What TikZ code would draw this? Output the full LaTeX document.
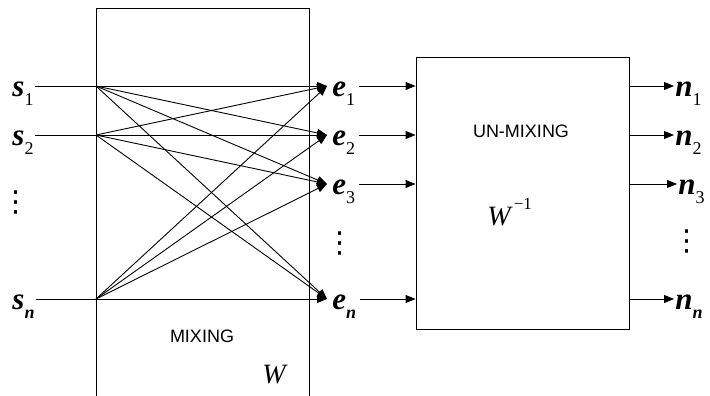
\documentclass[tikz,border=0pt]{standalone}
\usepackage{fontspec}
\usepackage{graphicx}
\setmainfont{Liberation Serif}
\newfontfamily\sansf{Liberation Sans}
\newfontfamily\dejavu{DejaVu Sans}
\usetikzlibrary{arrows.meta}
\newcommand\symsub[2]{{\bfseries\itshape #1}\raisebox{-0.3em}{\fontsize{18}{18}\selectfont #2}}
\newcommand\symsubn[1]{{\bfseries\itshape #1}\raisebox{-0.3em}{\fontsize{18}{18}\selectfont\bfseries\itshape n}}
\begin{document}
\begin{tikzpicture}[x=1pt,y=-1pt,line width=0.9pt,
  >={Triangle[length=10pt,width=8pt]},
  lab/.style={anchor=base west,inner sep=0pt,font=\fontsize{31}{31}\selectfont},
  dotsnode/.style={inner sep=0pt,font=\dejavu\fontsize{29}{29}\selectfont},
  boxtext/.style={inner sep=0pt,font=\sansf\fontsize{18}{18}\selectfont},
  wtext/.style={anchor=base west,inner sep=0pt,font=\fontsize{28}{28}\selectfont\itshape},
  conn/.style={->}]
\useasboundingbox (0,0) rectangle (710,396);
% mixing box (open at the bottom)
\draw (96,396) -- (96,8.5) -- (309,8.5) -- (309,396);
% un-mixing box
\node[draw,minimum width=213pt,minimum height=272pt,inner sep=0pt] (U) at (522.5,193) {};
% source labels
\node[lab] (s1) at (12,96) {\symsub{s}{1}};
\node[lab] (s2) at (12,145) {\symsub{s}{2}};
\node[lab] (sn) at (12,309) {\symsubn{s}};
\node[dotsnode] (ldots) at (16,202) {⋮};
% mixed labels
\node[lab] (e1) at (332,96) {\symsub{e}{1}};
\node[lab] (e2) at (332,145) {\symsub{e}{2}};
\node[lab] (e3) at (332,194) {\symsub{e}{3}};
\node[lab] (en) at (332,309) {\symsubn{e}};
\node[dotsnode] (mdots) at (340,243) {⋮};
% output labels
\node[lab] (n1) at (675,96) {\symsub{n}{1}};
\node[lab] (n2) at (675,145) {\symsub{n}{2}};
\node[lab] (n3) at (678,194) {\symsub{n}{3}};
\node[lab] (nn) at (675,309) {\symsubn{n}};
\node[dotsnode] (rdots) at (687,241) {⋮};
% row coordinates
\coordinate (a1) at (96,86);
\coordinate (a2) at (96,135);
\coordinate (an) at (96,299);
\coordinate (t1) at (327,86);
\coordinate (t2) at (327,135);
\coordinate (t3) at (327,184);
\coordinate (tn) at (327,299);
% straight lines s_i -> e_i
\draw[conn] ([xshift=1pt]s1.east |- a1) -- (t1);
\draw[conn] ([xshift=1pt]s2.east |- a2) -- (t2);
\draw[conn] ([xshift=1pt]sn.east |- an) -- (tn);
% crossing lines
\foreach \s/\t in {1/2,1/3,1/n,2/1,2/3,2/n,n/1,n/2,n/3}
  \draw[conn] (a\s) -- (t\t);
% e_i -> un-mixing
\draw[conn] ([xshift=3pt]e1.east |- t1) -- (U.west |- t1);
\draw[conn] ([xshift=3pt]e2.east |- t2) -- (U.west |- t2);
\draw[conn] ([xshift=3pt]e3.east |- t3) -- (U.west |- t3);
\draw[conn] ([xshift=3pt]en.east |- tn) -- (U.west |- tn);
% outputs
\draw[conn] (U.east |- t1) -- ([xshift=-1pt]n1.west |- t1);
\draw[conn] (U.east |- t2) -- ([xshift=-1pt]n2.west |- t2);
\draw[conn] (U.east |- t3) -- ([xshift=-1pt]n3.west |- t3);
\draw[conn] (U.east |- tn) -- ([xshift=-1pt]nn.west |- tn);
% box texts
\node[boxtext] (unmix) at (521,131.5) {UN-MIXING};
\node[wtext] (winv) at (487,225) {W\hspace{3pt}\raisebox{0.55em}{\fontsize{17}{17}\selectfont\upshape −1}};
\node[boxtext] (mix) at (202,336.5) {MIXING};
\node[wtext] (w) at (262,383) {W};
\end{tikzpicture}
\end{document}
